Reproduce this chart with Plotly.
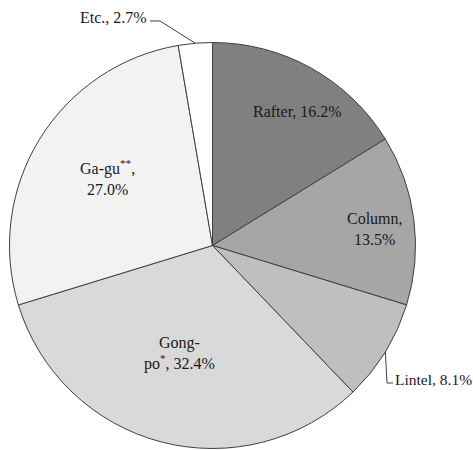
import math
import plotly.graph_objects as go

# Share of damaged members by type (%)
members = ["Rafter", "Column", "Lintel", "Gong-po", "Ga-gu", "Etc."]
shares = [16.2, 13.5, 8.1, 32.4, 27.0, 2.7]
label_text = [
    "Rafter, 16.2%",
    "Column,<br>13.5%",
    "Lintel, 8.1%",
    "Gong-<br>po<sup>*</sup>, 32.4%",
    "Ga-gu<sup>**</sup>,<br>27.0%",
    "Etc., 2.7%",
]
fills = ["#808080", "#a6a6a6", "#bfbfbf", "#d9d9d9", "#f2f2f2", "#ffffff"]

W, H = 473, 450
CX, CY, R = 212.5, 245.5, 203.0  # pie centre / radius in pixels
SERIF = "Liberation Serif"


def px(x):
    return x / W


def py(y):
    return 1 - y / H


fig = go.Figure(
    go.Pie(
        labels=members,
        values=shares,
        sort=False,
        direction="clockwise",
        rotation=0,
        textinfo="none",
        hoverinfo="label+percent",
        marker=dict(colors=fills, line=dict(color="#404040", width=1)),
        domain=dict(x=[px(CX - R), px(CX + R)], y=[py(CY + R), py(CY - R)]),
        showlegend=False,
    )
)


def edge_point(idx):
    """Pixel point on the rim at the middle of slice idx."""
    total = sum(shares)
    start = sum(shares[:idx]) / total * 360
    mid = math.radians(start + shares[idx] / total * 360 / 2)
    return CX + R * math.sin(mid), CY - R * math.cos(mid)


def label(x, y, text, xanchor="center", size=16):
    fig.add_annotation(x=px(x), y=py(y), xref="paper", yref="paper",
                       text=text, showarrow=False,
                       font=dict(family=SERIF, size=size, color="#1a1a1a"),
                       align="center", xanchor=xanchor, yanchor="middle")


# labels drawn inside their slices (pixel positions)
inside = {0: (297, 111), 1: (375, 229), 3: (179, 353), 4: (107, 177)}
for i, (x, y) in inside.items():
    label(x, y, label_text[i])

# Lintel label with leader line
lx0, ly0 = edge_point(2)
fig.add_shape(type="path", xref="paper", yref="paper",
              path=f"M {px(lx0)} {py(ly0)} L {px(387)} {py(383)} L {px(393)} {py(383)}",
              line=dict(color="#404040", width=1))
label(393, 379, label_text[2], xanchor="left", size=15.5)

# Etc. label with leader line
ex0, ey0 = edge_point(5)
fig.add_shape(type="path", xref="paper", yref="paper",
              path=f"M {px(ex0)} {py(ey0)} L {px(160)} {py(21)} L {px(150)} {py(21)}",
              line=dict(color="#404040", width=1))
label(149, 17, label_text[5], xanchor="right")

fig.update_layout(
    width=W, height=H,
    margin=dict(l=0, r=0, t=0, b=0),
    font=dict(family=SERIF, size=16, color="#1a1a1a"),
    paper_bgcolor="white",
    plot_bgcolor="white",
)

fig.write_html("out.html")
